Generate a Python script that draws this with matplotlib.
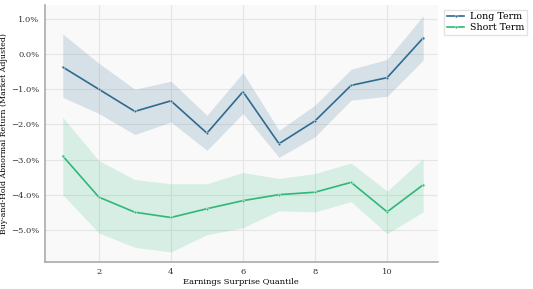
import numpy as np
import matplotlib.pyplot as plt
from matplotlib.ticker import FuncFormatter

# =============================
# DATA
# =============================
quantiles = [1, 2, 3, 4, 5, 6, 7, 8, 9, 10, 11]

long_term = [-0.37, -1.00, -1.63, -1.33, -2.25, -1.07, -2.55, -1.90, -0.89, -0.67, 0.46]
long_upper = [0.57, -0.26, -1.00, -0.77, -1.74, -0.53, -2.17, -1.45, -0.43, -0.15, 1.09]
long_lower = [-1.23, -1.69, -2.29, -1.93, -2.74, -1.69, -2.94, -2.35, -1.31, -1.20, -0.17]

short_term = [-2.90, -4.07, -4.50, -4.65, -4.40, -4.17, -4.00, -3.93, -3.65, -4.49, -3.72]
short_upper = [-1.80, -3.03, -3.57, -3.69, -3.69, -3.37, -3.54, -3.40, -3.10, -3.90, -2.97]
short_lower = [-4.00, -5.09, -5.50, -5.63, -5.14, -4.94, -4.46, -4.49, -4.20, -5.11, -4.49]

LONG_COLOR = '#2f6a8f'
SHORT_COLOR = '#2fb877'

plt.rcParams['font.family'] = 'DejaVu Serif'

fig = plt.figure(figsize=(5.33, 2.89), dpi=100)
ax = fig.add_axes([0.084, 0.093, 0.737, 0.89])
ax.set_facecolor('#f9f9f9')

ax.fill_between(quantiles, long_lower, long_upper, color=LONG_COLOR, alpha=0.17, lw=0)
ax.fill_between(quantiles, short_lower, short_upper, color=SHORT_COLOR, alpha=0.17, lw=0)
ax.plot(quantiles, long_term, color=LONG_COLOR, lw=1.2, marker='o', ms=2,
        mec='white', mew=0.3, label='Long Term')
ax.plot(quantiles, short_term, color=SHORT_COLOR, lw=1.2, marker='o', ms=2,
        mec='white', mew=0.3, label='Short Term')

ax.set_xlim(0.5, 11.4)
ax.set_ylim(-5.92, 1.4)
ax.set_xticks([2, 4, 6, 8, 10])
ax.set_yticks([-5, -4, -3, -2, -1, 0, 1])
ax.yaxis.set_major_formatter(FuncFormatter(lambda v, p: f'{v:.1f}%'.replace('-', '\u2212')))
ax.tick_params(labelsize=6, length=0, pad=4, colors='#333333')
ax.grid(True, color='#e6e6e6', lw=0.8)
ax.set_axisbelow(True)

for s in ['top', 'right']:
    ax.spines[s].set_visible(False)
for s in ['left', 'bottom']:
    ax.spines[s].set_color('#aaaaaa')
    ax.spines[s].set_linewidth(1.2)

ax.set_xlabel('Earnings Surprise Quantile', fontsize=6, labelpad=2)
ax.set_ylabel('Buy-and-Hold Abnormal Return (Market Adjusted)', fontsize=5.6, labelpad=2)

ax.legend(loc='upper left', bbox_to_anchor=(1.005, 1.0), fontsize=6.8,
          frameon=True, fancybox=False, edgecolor='#dddddd', handlelength=1.8,
          handletextpad=0.6, borderpad=0.3, labelspacing=0.2)

fig.savefig('out.png', dpi=100)
